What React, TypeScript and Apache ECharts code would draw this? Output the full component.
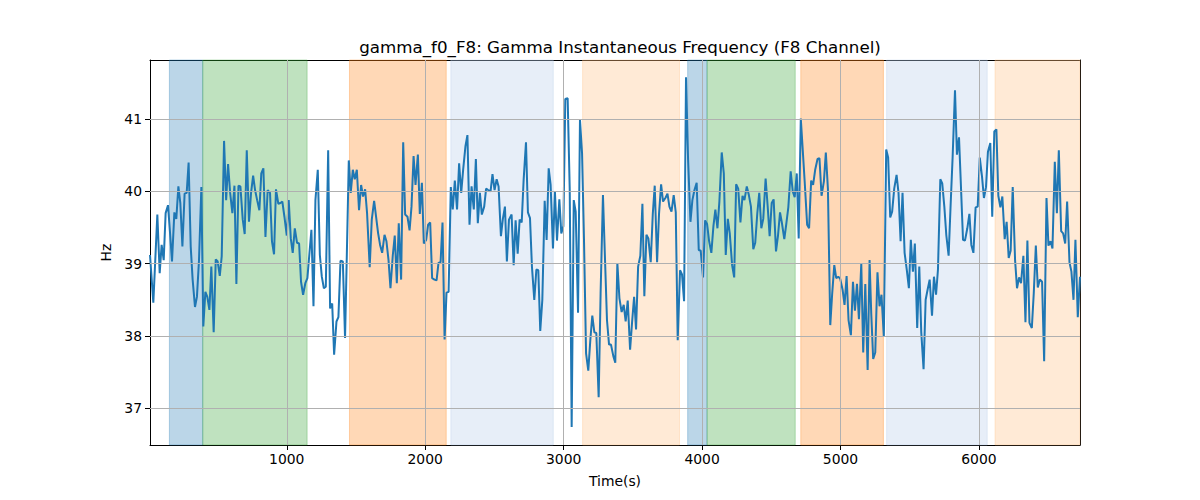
import React, { useRef, useEffect } from 'react';
import * as echarts from 'echarts';

// time (s) and instantaneous frequency (Hz)
const times = [
  12, 36, 65, 82, 96, 111, 125, 142, 157, 171, 188, 202, 217, 231, 246, 262, 277, 291, 306, 320,
  337, 351, 366, 383, 397, 412, 426, 441, 455, 472, 487, 501, 516, 530, 547, 562, 576, 591, 607, 622,
  636, 651, 665, 682, 696, 711, 727, 742, 757, 771, 786, 802, 816, 831, 846, 862, 879, 893, 908, 922,
  939, 954, 968, 983, 1000, 1014, 1029, 1043, 1058, 1074, 1089, 1103, 1118, 1134, 1149, 1164, 1178, 1193, 1207, 1224,
  1239, 1253, 1268, 1282, 1299, 1313, 1328, 1342, 1359, 1373, 1388, 1405, 1421, 1433, 1448, 1462, 1477, 1491, 1506, 1522,
  1537, 1551, 1566, 1580, 1599, 1614, 1631, 1645, 1660, 1674, 1689, 1706, 1720, 1735, 1749, 1766, 1780, 1795, 1809, 1826,
  1841, 1855, 1872, 1887, 1901, 1916, 1930, 1947, 1961, 1976, 1990, 2007, 2021, 2036, 2050, 2067, 2082, 2096, 2111, 2125,
  2140, 2154, 2169, 2185, 2199, 2214, 2230, 2245, 2260, 2274, 2291, 2305, 2320, 2335, 2351, 2366, 2380, 2395, 2409, 2426,
  2440, 2455, 2472, 2486, 2501, 2516, 2530, 2547, 2561, 2576, 2590, 2605, 2624, 2639, 2653, 2668, 2682, 2697, 2711, 2728,
  2742, 2757, 2771, 2788, 2803, 2817, 2831, 2846, 2863, 2877, 2892, 2906, 2923, 2937, 2952, 2969, 2983, 2998, 3012, 3029,
  3044, 3058, 3073, 3087, 3104, 3118, 3133, 3147, 3162, 3178, 3193, 3207, 3222, 3236, 3253, 3267, 3284, 3299, 3313, 3328,
  3342, 3359, 3373, 3388, 3403, 3419, 3434, 3448, 3463, 3480, 3494, 3509, 3523, 3538, 3554, 3569, 3583, 3598, 3612, 3629,
  3644, 3658, 3675, 3689, 3704, 3718, 3735, 3750, 3764, 3779, 3795, 3810, 3824, 3841, 3855, 3870, 3884, 3899, 3916, 3930,
  3945, 3961, 3976, 3990, 4007, 4022, 4036, 4051, 4067, 4082, 4096, 4111, 4125, 4142, 4157, 4171, 4186, 4200, 4217, 4232,
  4246, 4261, 4277, 4292, 4306, 4323, 4338, 4353, 4370, 4384, 4399, 4413, 4428, 4442, 4459, 4474, 4488, 4503, 4517, 4534,
  4548, 4563, 4577, 4594, 4609, 4623, 4640, 4655, 4669, 4684, 4698, 4713, 4727, 4742, 4759, 4773, 4788, 4802, 4817, 4834,
  4848, 4863, 4880, 4894, 4909, 4926, 4940, 4955, 4969, 4984, 4998, 5015, 5029, 5044, 5058, 5075, 5090, 5104, 5119, 5133,
  5150, 5164, 5179, 5196, 5210, 5222, 5236, 5251, 5267, 5282, 5296, 5313, 5330, 5344, 5359, 5373, 5388, 5405, 5419, 5434,
  5448, 5463, 5479, 5494, 5508, 5523, 5537, 5554, 5569, 5583, 5600, 5615, 5629, 5644, 5661, 5675, 5690, 5704, 5721, 5735,
  5750, 5764, 5781, 5796, 5810, 5827, 5841, 5856, 5870, 5885, 5899, 5916, 5931, 5945, 5960, 5976, 5991, 6006, 6022, 6036,
  6051, 6065, 6082, 6096, 6111, 6126, 6140, 6155, 6169, 6186, 6200, 6215, 6229, 6244, 6261, 6275, 6290, 6304, 6321, 6336,
  6350, 6365, 6382, 6396, 6411, 6425, 6440, 6456, 6471, 6488, 6502, 6517, 6531, 6548, 6563, 6577, 6594, 6608, 6623, 6637,
  6654, 6668, 6683, 6697, 6714, 6730,
];

const hz = [
  39.12, 38.46, 39.68, 38.87, 39.26, 39.05, 39.7, 39.81, 39.42, 39.03, 39.71, 39.62, 40.07, 39.84, 39.24, 39.97, 39.98, 40.4, 39.24, 38.78,
  38.4, 38.54, 39.05, 40.06, 38.13, 38.61, 38.54, 38.36, 38.96, 38.05, 39.06, 39.03, 38.83, 39.1, 40.7, 39.88, 40.38, 39.98, 39.7, 40.08,
  38.72, 40.08, 40.07, 39.61, 39.41, 40.57, 39.58, 39.98, 40.22, 40.02, 39.88, 39.74, 40.25, 40.32, 39.37, 40.02, 39.98, 39.31, 39.13, 40.03,
  39.83, 39.84, 39.86, 39.65, 39.39, 39.88, 39.35, 39.15, 39.49, 39.29, 39.28, 38.75, 38.57, 38.73, 38.8, 39.15, 39.47, 38.41, 39.88, 40.3,
  39.12, 38.82, 38.66, 38.68, 40.57, 38.38, 38.45, 37.74, 38.2, 38.26, 39.04, 39.03, 37.97, 39.05, 40.43, 39.98, 40.3, 40.17, 40.3, 39.74,
  40.09, 39.93, 40.03, 39.7, 38.95, 39.61, 39.87, 39.65, 39.42, 39.26, 39.15, 39.4, 39.31, 39.05, 38.66, 39.12, 39.39, 38.73, 39.56, 38.78,
  40.68, 39.68, 39.65, 39.46, 39.79, 40.49, 40.09, 40.51, 39.69, 40.12, 39.28, 39.33, 39.54, 39.57, 38.8, 38.78, 38.77, 39.01, 39.02, 39.57,
  37.95, 38.6, 38.61, 40.06, 39.75, 40.15, 39.75, 40.39, 39.98, 40.3, 40.63, 40.78, 39.54, 40.07, 39.75, 40.45, 39.56, 39.98, 39.68, 39.79,
  40.04, 40.02, 40.0, 40.24, 40.02, 40.17, 40.07, 39.38, 39.62, 39.79, 39.03, 39.61, 39.68, 38.98, 39.6, 39.14, 39.61, 39.57, 40.16, 40.68,
  39.71, 39.63, 38.96, 38.5, 38.92, 38.91, 38.07, 38.5, 39.87, 39.33, 40.32, 40.09, 39.21, 40.0, 39.32, 39.89, 39.42, 39.52, 41.28, 41.29,
  40.02, 36.74, 39.88, 39.72, 38.32, 40.99, 40.53, 39.33, 37.76, 37.52, 37.95, 38.28, 38.05, 38.04, 37.15, 38.59, 39.95, 39.05, 38.22, 37.88,
  37.88, 37.72, 37.63, 39.01, 38.52, 38.33, 38.43, 38.2, 38.49, 37.81, 38.18, 38.54, 38.09, 38.96, 39.11, 39.83, 38.55, 39.4, 39.35, 39.02,
  39.69, 40.08, 39.02, 39.69, 40.1, 39.86, 39.91, 39.97, 39.79, 39.72, 39.95, 39.71, 37.94, 38.91, 38.85, 38.48, 41.58, 40.44, 39.58, 39.88,
  40.02, 40.12, 39.19, 39.18, 38.81, 39.6, 39.55, 39.31, 39.15, 39.52, 39.75, 39.49, 39.86, 40.54, 40.25, 39.12, 39.62, 39.42, 38.98, 38.81,
  40.1, 40.04, 39.57, 39.94, 39.88, 40.07, 39.95, 39.79, 39.2, 39.29, 39.7, 39.98, 39.49, 39.62, 40.18, 39.79, 39.38, 39.84, 39.89, 39.17,
  39.38, 39.71, 39.56, 39.34, 39.56, 39.78, 40.28, 40.0, 39.92, 40.25, 39.35, 41.01, 40.58, 40.11, 39.54, 39.49, 40.15, 40.09, 40.3, 40.45,
  40.46, 39.94, 40.14, 40.54, 40.04, 38.15, 38.59, 38.98, 38.8, 38.82, 38.79, 38.64, 38.43, 38.83, 38.22, 38.01, 38.75, 38.35, 38.72, 38.23,
  39.0, 37.77, 38.72, 37.53, 39.05, 38.31, 37.68, 37.77, 38.88, 38.41, 38.57, 37.99, 40.58, 40.47, 39.64, 39.72, 40.04, 40.23, 39.98, 39.31,
  39.98, 39.15, 38.91, 38.66, 39.33, 38.89, 39.28, 38.11, 38.96, 38.06, 37.54, 38.5, 38.64, 38.78, 38.28, 38.82, 38.57, 38.92, 40.17, 40.11,
  39.79, 39.4, 39.11, 39.84, 40.48, 41.4, 40.51, 40.75, 40.07, 39.33, 39.32, 39.49, 39.69, 39.26, 39.15, 39.78, 39.79, 40.47, 40.21, 39.91,
  40.06, 40.55, 40.67, 39.65, 40.83, 40.86, 39.94, 39.78, 39.93, 39.34, 39.58, 39.08, 39.18, 40.06, 39.05, 38.66, 38.81, 38.73, 39.11, 38.19,
  39.32, 38.18, 38.11, 38.59, 39.25, 38.67, 38.78, 38.75, 37.65, 39.91, 39.25, 39.31, 39.21, 40.41, 39.7, 40.57, 39.45, 39.42, 39.28, 39.86,
  39.02, 38.89, 38.5, 39.33, 38.26, 38.82,
];

// shaded segments: start, end, colour kind
const bandStarts = [152, 393, 1453, 2185, 3137, 3896, 4036, 4713, 5333, 6116];
const bandEnds = [393, 1147, 2152, 2925, 3837, 4036, 4673, 5310, 6060, 6730];
const bandKinds = ['blue', 'green', 'orange', 'lightblue', 'lightorange', 'blue', 'green', 'orange', 'lightblue', 'lightorange'];

const bandColors: Record<string, string> = {
  blue: 'rgba(31,119,180,0.3)',
  green: 'rgba(44,160,44,0.3)',
  orange: 'rgba(255,127,14,0.3)',
  lightblue: 'rgba(174,199,232,0.3)',
  lightorange: 'rgba(255,187,120,0.3)',
};

const xTicks = [1000, 2000, 3000, 4000, 5000, 6000];
const yTicks = [37, 38, 39, 40, 41];

const X_MIN = 12;
const X_MAX = 6730;
const Y_MIN = 36.49;
const Y_MAX = 41.82;

const FONT = 'DejaVu Sans';

const App: React.FC = () => {
  const chartRef = useRef<HTMLDivElement>(null);

  useEffect(() => {
    if (!chartRef.current) return;
    const chart = echarts.init(chartRef.current, null, { renderer: 'svg' });

    const labelStyle = { color: '#000', fontFamily: FONT, fontSize: 13.9 };
    const hiddenAxis = {
      axisLine: { show: true, lineStyle: { color: '#000', width: 1 } },
      axisTick: { show: false },
      axisLabel: { show: false },
      splitLine: { show: false },
    };

    const option: echarts.EChartsOption = {
      animation: false,
      backgroundColor: '#fff',
      title: {
        text: 'gamma_f0_F8: Gamma Instantaneous Frequency (F8 Channel)',
        left: 615,
        top: 33,
        textAlign: 'center',
        textStyle: { fontFamily: FONT, fontSize: 16.7, fontWeight: 'normal', color: '#000' },
      },
      grid: { left: 150, right: 120, top: 60, bottom: 55, containLabel: false },
      xAxis: [
        {
          type: 'value',
          min: X_MIN,
          max: X_MAX,
          name: 'Time(s)',
          nameLocation: 'middle',
          nameGap: 29,
          nameTextStyle: labelStyle,
          axisLine: { show: true, onZero: false, lineStyle: { color: '#000', width: 1 } },
          axisTick: { show: true, length: 5, lineStyle: { color: '#000' }, customValues: xTicks },
          axisLabel: { ...labelStyle, margin: 7, customValues: xTicks, formatter: (v: number) => String(v) },
          splitLine: { show: false },
        },
        { type: 'value', position: 'top', min: X_MIN, max: X_MAX, ...hiddenAxis },
      ],
      yAxis: [
        {
          type: 'value',
          min: Y_MIN,
          max: Y_MAX,
          name: 'Hz',
          nameLocation: 'middle',
          nameGap: 33,
          nameRotate: 90,
          nameTextStyle: labelStyle,
          axisLine: { show: true, onZero: false, lineStyle: { color: '#000', width: 1 } },
          axisTick: { show: true, length: 5, lineStyle: { color: '#000' }, customValues: yTicks },
          axisLabel: { ...labelStyle, margin: 8, customValues: yTicks, formatter: (v: number) => String(v) },
          splitLine: { show: false },
        },
        { type: 'value', position: 'right', min: Y_MIN, max: Y_MAX, ...hiddenAxis },
      ],
      series: [
        {
          type: 'line',
          data: [],
          silent: true,
          z: 1,
          markArea: {
            silent: true,
            data: bandStarts.map((s, i) => [
              {
                xAxis: s,
                itemStyle: {
                  color: bandColors[bandKinds[i]],
                  borderColor: bandColors[bandKinds[i]],
                  borderWidth: 1,
                },
              },
              { xAxis: bandEnds[i] },
            ]) as any,
          },
        },
        {
          type: 'line',
          data: [],
          silent: true,
          z: 2,
          markLine: {
            silent: true,
            symbol: ['none', 'none'],
            label: { show: false },
            lineStyle: { color: '#b0b0b0', width: 1, type: 'solid' },
            data: [
              ...yTicks.map((v) => ({ yAxis: v })),
              ...xTicks.map((v) => ({ xAxis: v })),
            ],
          },
        },
        {
          type: 'line',
          z: 3,
          showSymbol: false,
          symbol: 'none',
          lineStyle: { color: '#1f77b4', width: 2 },
          data: times.map((t, i) => [t, hz[i]]),
        },
      ],
    };

    chart.setOption(option);
    return () => {
      chart.dispose();
    };
  }, []);

  return <div ref={chartRef} style={{ width: 1200, height: 500, margin: -8 }} />;
};

export default App;
